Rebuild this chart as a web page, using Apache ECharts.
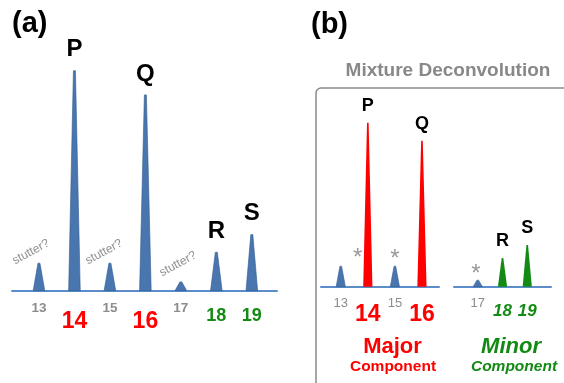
<!DOCTYPE html>
<html>
<head>
<meta charset="utf-8">
<script src="https://cdn.jsdelivr.net/npm/echarts@6/dist/echarts.min.js"></script>
<style>html,body{margin:0;padding:0;background:#fff}#c{width:564px;height:383px}</style>
</head>
<body>
<div id="c"></div>
<script>
// ---- data ----
const alleles = [13, 14, 15, 16, 17, 18, 19];
const peakHeights = [125, 1000, 125, 890, 40, 175, 255];
const peakNames = ['', 'P', '', 'Q', '', 'R', 'S'];
const alleleRoles = ['stutter', 'major', 'stutter', 'major', 'stutter', 'minor', 'minor'];
const stutterNotes = ['stutter?', 'stutter?', 'stutter?'];
const panelTitles = ['(a)', '(b)'];
const boxTitle = 'Mixture Deconvolution';
const componentLabels = [['Major', 'Component'], ['Minor', 'Component']];

// ---- styles ----
const FF = '"Liberation Sans", Arial, sans-serif';
const BLUE = '#4a76b0', BLUE_EDGE = '#2f5a8f', AXIS = '#5b8ccb';
const RED = '#ff0000', GREEN = '#138a13', GREY = '#8c8c8c';

const panelA = {
  hw: 5.8, thw: 1,
  colors: {stutter: BLUE, major: BLUE, minor: BLUE},
  tick: {
    stutter: {size: 13.5, weight: 'bold', style: 'normal', fill: GREY, dy: 18},
    major: {size: 23, weight: 'bold', style: 'normal', fill: RED, dy: 31},
    minor: {size: 18, weight: 'bold', style: 'normal', fill: GREEN, dy: 25}
  },
  name: {size: 24, dy: 21}
};
const panelB = {
  hw: 4.6, thw: 0.8,
  colors: {stutter: BLUE, major: RED, minor: GREEN},
  tick: {
    stutter: {size: 13, weight: 'normal', style: 'normal', fill: GREY, dy: 16.5},
    major: {size: 23, weight: 'bold', style: 'normal', fill: RED, dy: 28},
    minor: {size: 17, weight: 'bold', style: 'italic', fill: GREEN, dy: 24.5}
  },
  name: {size: 18, dy: 16.5}
};

function makeRender(p) {
  return function (params, api) {
    const x = api.value(0), h = api.value(1), idx = api.value(2);
    const role = alleleRoles[idx];
    const b = api.coord([x, 0]);
    const t = api.coord([x, h]);
    const col = p.colors[role];
    const children = [{
      type: 'polygon',
      shape: {points: [[b[0] - p.hw, b[1]], [t[0] - p.thw, t[1]], [t[0] + p.thw, t[1]], [b[0] + p.hw, b[1]]]},
      style: {fill: col, stroke: col === BLUE ? BLUE_EDGE : null, lineWidth: col === BLUE ? 0.6 : 0}
    }];
    const tk = p.tick[role];
    children.push({
      type: 'text',
      style: {
        text: String(x), x: b[0], y: b[1] + tk.dy, fill: tk.fill,
        fontSize: tk.size, fontWeight: tk.weight, fontStyle: tk.style, fontFamily: FF,
        align: 'center', verticalAlign: 'middle'
      }
    });
    if (peakNames[idx]) {
      children.push({
        type: 'text',
        style: {
          text: peakNames[idx], x: t[0], y: t[1] - p.name.dy, fill: '#000',
          fontSize: p.name.size, fontWeight: 'bold', fontFamily: FF,
          align: 'center', verticalAlign: 'middle'
        }
      });
    }
    return {type: 'group', children: children};
  };
}

const allData = alleles.map((a, i) => [a, peakHeights[i], i]);
const leftData = allData.filter(d => d[0] <= 16);
const rightData = allData.filter(d => d[0] >= 17);

function xAx(gi, min, max) {
  return {
    type: 'value', gridIndex: gi, min: min, max: max,
    axisLine: {show: true, onZero: false, lineStyle: {color: AXIS, width: 2}},
    axisTick: {show: false}, axisLabel: {show: false}, splitLine: {show: false}
  };
}
function yAx(gi) {
  return {type: 'value', gridIndex: gi, min: 0, max: 1000, show: false, splitLine: {show: false}};
}

const chart = echarts.init(document.getElementById('c'), null, {renderer: 'canvas'});
chart.setOption({
  animation: false,
  backgroundColor: '#fff',
  grid: [
    {left: 12, width: 265, top: 70.7, height: 220},
    {left: 321, width: 118, top: 122.7, height: 164},
    {left: 454, width: 97, top: 122.7, height: 164}
  ],
  xAxis: [xAx(0, 12.24, 19.71), xAx(1, 12.27, 16.63), xAx(2, 16.04, 19.96)],
  yAxis: [yAx(0), yAx(1), yAx(2)],
  series: [
    {type: 'custom', xAxisIndex: 0, yAxisIndex: 0, data: allData, renderItem: makeRender(panelA), clip: false},
    {type: 'custom', xAxisIndex: 1, yAxisIndex: 1, data: leftData, renderItem: makeRender(panelB), clip: false},
    {type: 'custom', xAxisIndex: 2, yAxisIndex: 2, data: rightData, renderItem: makeRender(panelB), clip: false}
  ],
  graphic: [
    {type: 'text', x: 12, y: 24, style: {text: panelTitles[0], fontSize: 29, fontWeight: 'bold', fontFamily: FF, fill: '#000', verticalAlign: 'middle'}},
    {type: 'text', x: 311, y: 25, style: {text: panelTitles[1], fontSize: 29, fontWeight: 'bold', fontFamily: FF, fill: '#000', verticalAlign: 'middle'}},
    {type: 'text', x: 448, y: 71, style: {text: boxTitle, fontSize: 19, fontWeight: 'bold', fontFamily: FF, fill: '#888', align: 'center', verticalAlign: 'middle'}},
    {type: 'rect', shape: {x: 316, y: 88, width: 300, height: 330, r: 5}, style: {fill: null, stroke: '#8a8a8a', lineWidth: 1.5}},
    {type: 'text', x: 31, y: 252, rotation: 0.5, style: {text: stutterNotes[0], fontSize: 12, fontFamily: FF, fill: '#8f8f8f', align: 'center', verticalAlign: 'middle'}},
    {type: 'text', x: 104, y: 252, rotation: 0.5, style: {text: stutterNotes[1], fontSize: 12, fontFamily: FF, fill: '#8f8f8f', align: 'center', verticalAlign: 'middle'}},
    {type: 'text', x: 178, y: 264, rotation: 0.5, style: {text: stutterNotes[2], fontSize: 12, fontFamily: FF, fill: '#8f8f8f', align: 'center', verticalAlign: 'middle'}},
    {type: 'text', x: 357.7, y: 258, style: {text: '*', fontSize: 24, fontFamily: FF, fill: '#999', align: 'center', verticalAlign: 'middle'}},
    {type: 'text', x: 395, y: 259, style: {text: '*', fontSize: 24, fontFamily: FF, fill: '#999', align: 'center', verticalAlign: 'middle'}},
    {type: 'text', x: 476, y: 274, style: {text: '*', fontSize: 24, fontFamily: FF, fill: '#999', align: 'center', verticalAlign: 'middle'}},
    {type: 'text', x: 392.5, y: 346.5, style: {text: componentLabels[0][0], fontSize: 22, fontWeight: 'bold', fontFamily: FF, fill: RED, align: 'center', verticalAlign: 'middle'}},
    {type: 'text', x: 393, y: 367, style: {text: componentLabels[0][1], fontSize: 15.5, fontWeight: 'bold', fontFamily: FF, fill: RED, align: 'center', verticalAlign: 'middle'}},
    {type: 'text', x: 511, y: 346.5, style: {text: componentLabels[1][0], fontSize: 22, fontWeight: 'bold', fontStyle: 'italic', fontFamily: FF, fill: GREEN, align: 'center', verticalAlign: 'middle'}},
    {type: 'text', x: 514, y: 367, style: {text: componentLabels[1][1], fontSize: 15.5, fontWeight: 'bold', fontStyle: 'italic', fontFamily: FF, fill: GREEN, align: 'center', verticalAlign: 'middle'}}
  ]
});
</script>
</body>
</html>
